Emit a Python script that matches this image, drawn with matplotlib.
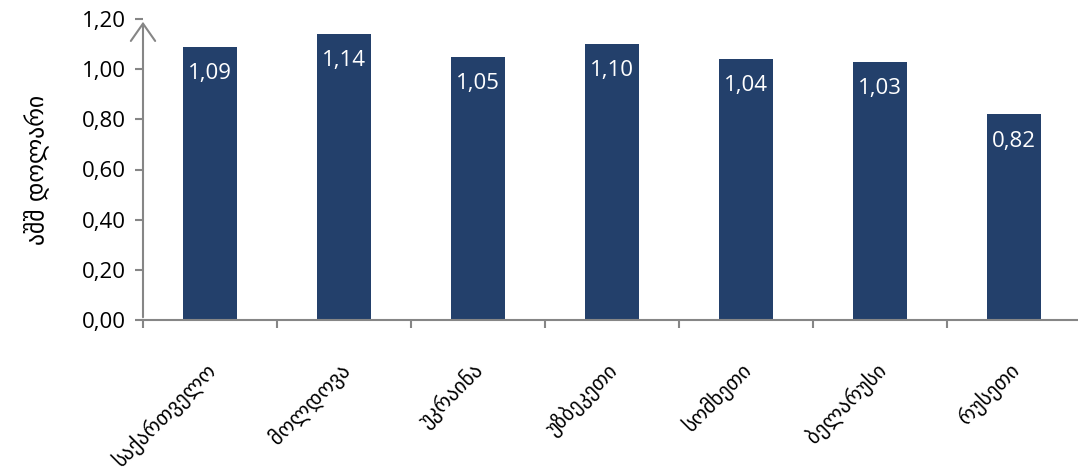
import matplotlib.pyplot as plt
import numpy as np

countries = ['საქართველო', 'მოლდოვა', 'უკრაინა', 'უზბეკეთი', 'სომხეთი', 'ბელარუსი', 'რუსეთი']
values = [1.09, 1.14, 1.05, 1.10, 1.04, 1.03, 0.82]
yticks = [0.0, 0.2, 0.4, 0.6, 0.8, 1.0, 1.2]

bar_color = '#23406b'
axis_color = '#868686'

plt.rcParams['font.family'] = ['DejaVu Sans']

fig = plt.figure(figsize=(10.78, 4.74), dpi=100)
ax = fig.add_axes([143 / 1078, 154 / 474, 938 / 1078, 301 / 474])

x = np.arange(len(countries))
bars = ax.bar(x, values, width=0.4, color=bar_color, zorder=2)

for xi, v in zip(x, values):
    ax.text(xi, v - 0.065, f'{v:.2f}'.replace('.', ','), ha='center', va='top',
            color='white', fontsize=16, family='Open Sans')

ax.set_xlim(-0.5, len(countries) - 0.5)
ax.set_ylim(0, 1.2)
ax.set_yticks(yticks)
ax.set_yticklabels([f'{t:.2f}'.replace('.', ',') for t in yticks], fontsize=16, family='Open Sans')

ax.set_xticks(x - 0.04)
ax.set_xticklabels(countries, rotation=45, ha='right', va='top', rotation_mode='anchor', fontsize=15)
ax.tick_params(axis='x', which='major', length=0, pad=28)
ax.set_xticks(np.arange(-0.5, len(countries)), minor=True)
ax.tick_params(axis='x', which='minor', length=6, color=axis_color, width=1.5)
ax.tick_params(axis='y', length=6, color=axis_color, width=1.5, pad=6)

for s in ['top', 'right']:
    ax.spines[s].set_visible(False)
for s in ['left', 'bottom']:
    ax.spines[s].set_color(axis_color)
    ax.spines[s].set_linewidth(1.5)
ax.spines['left'].set_visible(False)

# y axis with open arrow head
ax.annotate('', xy=(-0.5, 1.2), xytext=(-0.5, 0), xycoords='data',
            arrowprops=dict(arrowstyle='->,head_length=0.5,head_width=0.35', color=axis_color,
                            lw=1.5, mutation_scale=25),
            annotation_clip=False)

ax.set_ylabel('აშშ დოლარი', fontsize=17, labelpad=24)

fig.savefig('out.png', dpi=100)
